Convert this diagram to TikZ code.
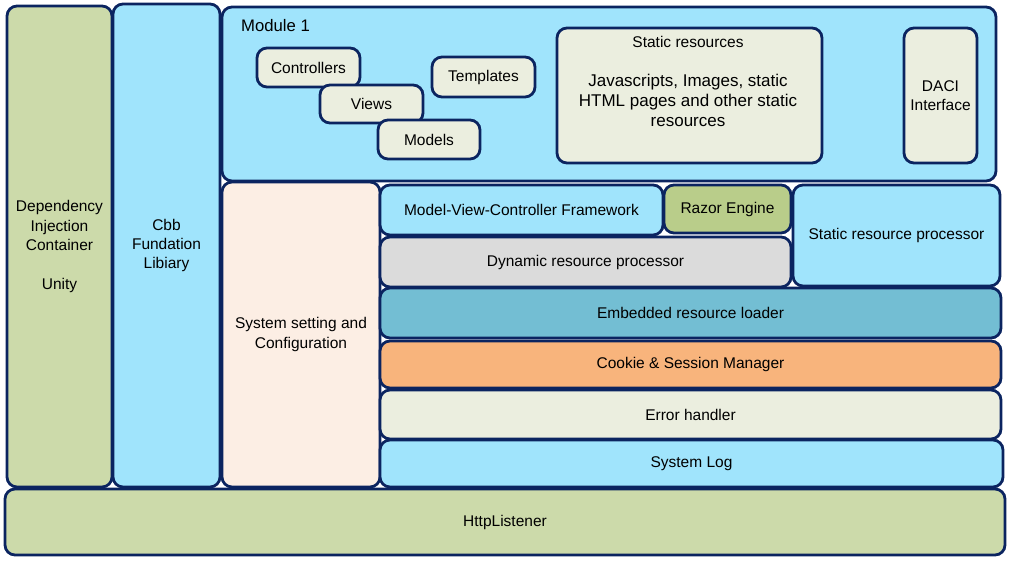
\documentclass[tikz,border=0pt]{standalone}
\usepackage{fontspec}
\setmainfont{Liberation Sans}
\usepackage{tikz,color}

\definecolor{navy}{RGB}{11,36,96}
\definecolor{olive}{RGB}{204,218,170}
\definecolor{sky}{RGB}{160,228,252}
\definecolor{paper}{RGB}{235,238,223}
\definecolor{peach}{RGB}{252,238,228}
\definecolor{razor}{RGB}{185,205,138}
\definecolor{grayish}{RGB}{219,219,219}
\definecolor{teal}{RGB}{115,190,211}
\definecolor{orange}{RGB}{248,180,124}

\begin{document}
\begin{tikzpicture}[x=1pt,y=-1pt,
  blk/.style={draw=navy, line width=2.8pt, rounded corners=10pt, inner sep=0pt, align=center},
  txt/.style={align=center, inner sep=0pt}]
\useasboundingbox (0,0) rectangle (1011,561);
\fontsize{15.5}{19.3}\selectfont

\node [blk, fill=olive, minimum width=105, minimum height=481] (di) at (59.5,246.5) {Dependency\\Injection\\Container\\ \\Unity};
\node [blk, fill=sky, minimum width=107, minimum height=483] (cbb) at (166.5,245.5) {Cbb\\Fundation\\Libiary};

% module 1
\node [blk, fill=sky, minimum width=774, minimum height=174] (module) at (609,94) {};
\node [txt, anchor=west, font=\fontsize{16.7}{19}\selectfont] (modname) at (241,26) {Module 1};
\node [blk, fill=paper, minimum width=103, minimum height=39] (ctrl) at (308.5,67.5) {Controllers};
\node [blk, fill=paper, minimum width=103, minimum height=38] (views) at (371.5,104) {Views};
\node [blk, fill=paper, minimum width=102, minimum height=39] (models) at (429,139.5) {Models};
\node [blk, fill=paper, minimum width=103, minimum height=40] (tpl) at (483.5,77) {Templates};
\node [blk, fill=paper, minimum width=265, minimum height=135] (static) at (689.5,95.5) {};
\node [txt] (statictitle) at (688,42) {Static resources};
\node [txt, font=\fontsize{17}{20}\selectfont] (statictxt) at (688,100) {Javascripts, Images, static\\HTML pages and other static\\resources};
\node [blk, fill=paper, minimum width=73, minimum height=135] (daci) at (940.5,95.5) {DACI\\Interface};

% layers
\node [blk, fill=peach, minimum width=158, minimum height=305] (sysset) at (301,334.5) {System setting and\\Configuration};
\node [blk, fill=sky, minimum width=283, minimum height=50] (mvc) at (521.5,210) {Model-View-Controller Framework};
\node [blk, fill=razor, minimum width=127, minimum height=48] (razor) at (727.5,209) {Razor Engine};
\node [blk, fill=sky, minimum width=207, minimum height=101] (staticproc) at (896.5,235.5) {Static resource processor};
\node [blk, fill=grayish, minimum width=411, minimum height=50] (dynamic) at (585.5,262) {Dynamic resource processor};
\node [blk, fill=teal, minimum width=621, minimum height=50] (embedded) at (690.5,313) {Embedded resource loader};
\node [blk, fill=orange, minimum width=621, minimum height=47] (cookie) at (690.5,364.5) {Cookie \& Session Manager};
\node [blk, fill=paper, minimum width=621, minimum height=49] (error) at (690.5,414.5) {Error handler};
\node [blk, fill=sky, minimum width=623, minimum height=47] (syslog) at (691.5,463.5) {System Log};
\node [blk, fill=olive, minimum width=1000, minimum height=66] (http) at (505,522) {HttpListener};

\end{tikzpicture}
\end{document}
